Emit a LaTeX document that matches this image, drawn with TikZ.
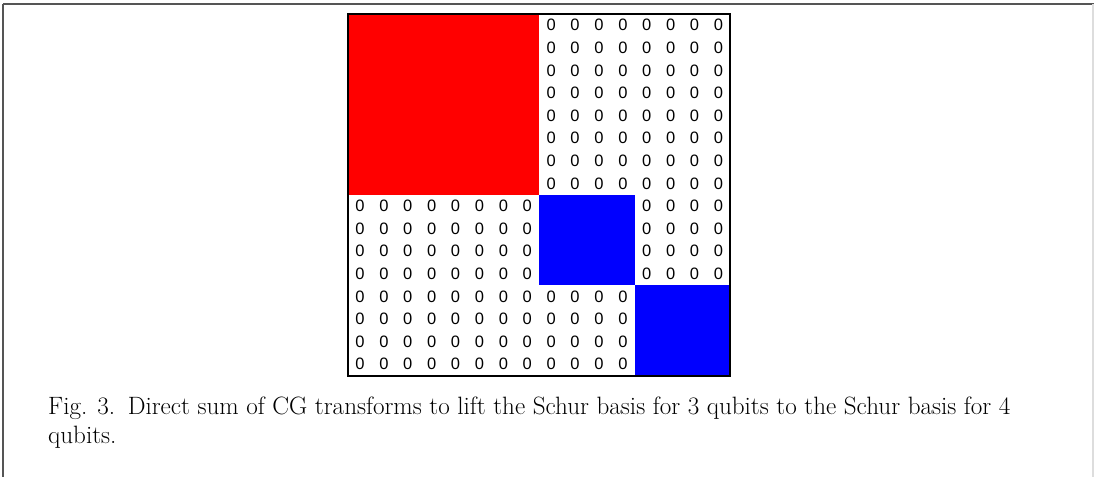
\documentclass[tikz,border=0pt]{standalone}
\usepackage{fontspec}
\newfontfamily\cellfont{Liberation Sans}
\definecolor{framedark}{HTML}{555555}
\definecolor{framelight}{HTML}{DDDDDD}
\begin{document}
\begin{tikzpicture}[x=1pt,y=-1pt,
  zero/.style={font=\cellfont\fontsize{16.5}{18}\selectfont, inner sep=0pt},
  captxt/.style={font=\fontsize{25.1}{29}\selectfont, inner sep=0pt, align=left, anchor=base west}]
\useasboundingbox (0,0) rectangle (1094,477);
\fill[white] (0,0) rectangle (1094,477);
% outer frame
\draw[framedark, line width=2pt] (3,4) -- (1094,4);
\draw[framedark, line width=1.5pt] (3,4) -- (3,477);
\draw[framelight, line width=1.5pt] (1093,4) -- (1093,477);
% matrix
\def\xo{348}\def\yo{14}\def\cw{23.9}\def\ch{22.6}
\fill[red] (\xo,\yo) rectangle ({\xo+8*\cw},{\yo+8*\ch});
\fill[blue] ({\xo+8*\cw},{\yo+8*\ch}) rectangle ({\xo+12*\cw},{\yo+12*\ch});
\fill[blue] ({\xo+12*\cw},{\yo+12*\ch}) rectangle ({\xo+16*\cw},{\yo+16*\ch});
% zeros
\foreach \r in {1,...,8}{\foreach \c in {9,...,16}{
  \node[zero] at ({\xo+(\c-0.5)*\cw},{\yo+(\r-0.5)*\ch}) {0};}}
\foreach \r in {9,...,12}{\foreach \c in {1,...,8,13,14,15,16}{
  \node[zero] at ({\xo+(\c-0.5)*\cw},{\yo+(\r-0.5)*\ch}) {0};}}
\foreach \r in {13,...,16}{\foreach \c in {1,...,12}{
  \node[zero] at ({\xo+(\c-0.5)*\cw},{\yo+(\r-0.5)*\ch}) {0};}}
\draw[black, line width=2pt] (\xo,\yo) rectangle ({\xo+16*\cw},{\yo+16*\ch});
% caption
\node[captxt] (cap) at (48,443) {Fig. 3.\enspace Direct sum of CG transforms to lift the Schur basis for 3 qubits to the Schur basis for 4\\qubits.};
\end{tikzpicture}
\end{document}
